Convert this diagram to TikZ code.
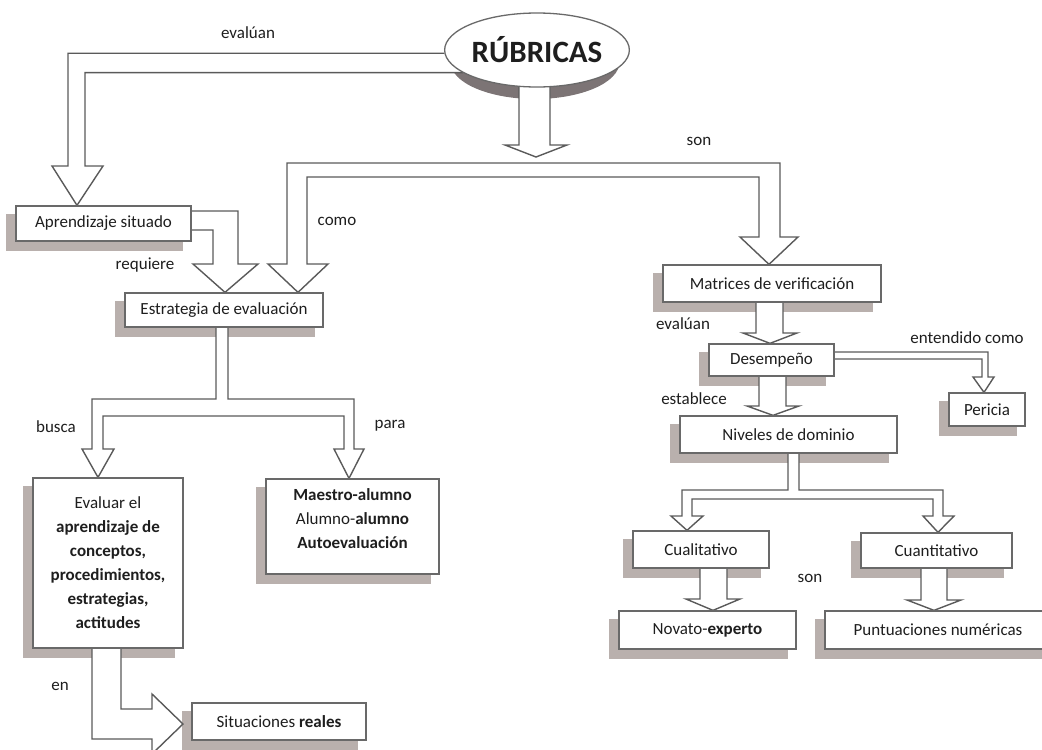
\documentclass[tikz,border=0pt]{standalone}
\usepackage{fontspec}
\setmainfont{Carlito}
\usetikzlibrary{calc, shapes.geometric}
\definecolor{arrowgray}{RGB}{90, 90, 90}
\definecolor{boxgray}{RGB}{105, 105, 105}
\definecolor{shadowtan}{RGB}{185, 176, 173}
\definecolor{ovalshade}{RGB}{124, 116, 117}
\definecolor{inkdark}{RGB}{30, 30, 30}
\pgfdeclarelayer{shadelayer}
\pgfdeclarelayer{arrowlayer}
\pgfsetlayers{shadelayer,arrowlayer,main}
\newcommand\blkdown[7]{%
  \filldraw[blockarrow] (#3,0 |- #1.south) -- (#3,#7) -- (#5,#7)
    -- ({(#5+#6)/2},0 |- #2.north) -- (#6,#7) -- (#4,#7) -- (#4,0 |- #1.south);}

\begin{document}
\begin{tikzpicture}[x=1pt, y=-1pt,
    every node/.style={font=\fontsize{17}{24}\selectfont, text=inkdark},
    concept/.style={draw=boxgray, line width=1.3pt, fill=white, inner sep=0pt, align=center},
    linkword/.style={inner sep=0pt},
    blockarrow/.style={draw=arrowgray, line width=1.4pt, fill=white, line join=miter}]
    \useasboundingbox (0,0) rectangle (1042,750);

    \node[ellipse, draw=boxgray, line width=1.3pt, fill=white, inner sep=0pt,
          minimum width=169pt, minimum height=74pt,
          font=\fontsize{31}{36}\selectfont\bfseries] (rub) at (537,50) {RÚBRICAS};

    \node[concept, minimum width=175pt, minimum height=35pt] (apr) at (103.5,223.5) {Aprendizaje situado};
    \node[concept, minimum width=198pt, minimum height=34pt] (estr) at (224,310) {Estrategia de evaluación};
    \node[concept, minimum width=150pt, minimum height=170pt] (eva) at (108,563)
        {Evaluar el\\ \textbf{aprendizaje de}\\ \textbf{conceptos,}\\ \textbf{procedimientos,}\\ \textbf{estrategias,}\\ \textbf{actitudes}};
    \node[concept, minimum width=173pt, minimum height=95pt] (mae) at (352.5,526.5) {};
    \node[align=center, inner sep=0pt] (maetext) at (352.5,518.5)
        {\textbf{Maestro-alumno}\\ Alumno-\textbf{alumno}\\ \textbf{Autoevaluación}};
    \node[concept, minimum width=174pt, minimum height=37pt] (sit) at (279,721.5) {Situaciones \textbf{reales}};

    \node[concept, minimum width=218pt, minimum height=37pt] (mat) at (772,283.5) {Matrices de verificación};
    \node[concept, minimum width=125pt, minimum height=32pt] (des) at (771.5,360) {Desempeño};
    \node[concept, minimum width=76pt, minimum height=33pt] (per) at (987,409.5) {Pericia};
    \node[concept, minimum width=217pt, minimum height=37pt] (niv) at (788.5,434.5) {Niveles de dominio};
    \node[concept, minimum width=136pt, minimum height=37pt] (cual) at (701,549.5) {Cualitativo};
    \node[concept, minimum width=151pt, minimum height=35pt] (cuan) at (936.5,550.5) {Cuantitativo};
    \node[concept, minimum width=177pt, minimum height=38pt] (nov) at (707.5,630) {Novato-\textbf{experto}};
    \node[concept, minimum width=226pt, minimum height=38pt] (pun) at (938,630) {Puntuaciones numéricas};

    \node[linkword] (wevaluan) at (248,33) {evalúan};
    \node[linkword] (wrequiere) at (145,265) {requiere};
    \node[linkword] (wcomo) at (337,221) {como};
    \node[linkword] (wson) at (699,141) {son};
    \node[linkword] (wbusca) at (56,427) {busca};
    \node[linkword] (wpara) at (390,426) {para};
    \node[linkword] (wen) at (60,686) {en};
    \node[linkword] (wevaluan2) at (683,324) {evalúan};
    \node[linkword] (wentendido) at (967,338) {entendido como};
    \node[linkword] (westablece) at (694,399) {establece};
    \node[linkword] (wson2) at (810,578) {son};

    \coordinate (rubtip) at (536,157);

    \begin{pgfonlayer}{shadelayer}
        \foreach \n in {apr,estr,eva,mae,sit,mat,des,per,niv,cual,cuan,nov,pun}
            \fill[shadowtan] ($(\n.north west)+(-9,9)$) rectangle ($(\n.south east)+(-9,9)$);
        \fill[ovalshade] ($(rub.center)+(-2,12)$) ellipse [x radius=84.5, y radius=37];
    \end{pgfonlayer}

    \begin{pgfonlayer}{arrowlayer}
        \filldraw[blockarrow] (rub.182) -- (rub.182 -| 68,0) -- (68,166) -- (52,166)
            -- (77,0 |- apr.north) -- (103,166) -- (85,166) -- (rub.197 -| 85,0) -- (rub.197);
        \filldraw[blockarrow] (rub.center -| 519,0) -- (519,145) -- (505,145) -- (rubtip)
            -- (567,145) -- (550,145) -- (rub.center -| 550,0);
        \filldraw[blockarrow] (298,0 |- estr.north) -- (328,264) -- (307,264) -- (307,177)
            -- (759,177) -- (759,237) -- (740,237) -- (769,0 |- mat.north) -- (798,237)
            -- (780,237) -- (780,163) -- (287,163) -- (287,264) -- (268,264) -- cycle;
        \filldraw[blockarrow] (apr.east |- 0,211) -- (238,211) -- (238,264) -- (258,264)
            -- (225,0 |- estr.north) -- (193,264) -- (213,264) -- (213,230) -- (apr.east |- 0,230);
        \filldraw[blockarrow] (216,0 |- estr.south) -- (216,399) -- (92,399) -- (92,449)
            -- (82,449) -- (98,0 |- eva.north) -- (114,449) -- (103,449) -- (103,416)
            -- (344,416) -- (344,449) -- (334,449) -- (349,0 |- mae.north) -- (364,449)
            -- (354,449) -- (354,399) -- (228,399) -- (228,0 |- estr.south);
        \filldraw[blockarrow] (92,0 |- eva.south) -- (92,739) -- (152,739) -- (152,754)
            -- (183,724) -- (152,694) -- (152,709) -- (121,709) -- (121,0 |- eva.south);
        \blkdown{mat}{des}{756}{783}{743}{797}{333}
        \filldraw[blockarrow] (des.east |- 0,352) -- (988,352) -- (988,377) -- (994,377)
            -- (984,0 |- per.north) -- (973,377) -- (982,377) -- (982,359) -- (des.east |- 0,359);
        \blkdown{des}{niv}{759}{786}{747}{799}{406}
        \filldraw[blockarrow] (788,0 |- niv.south) -- (788,490) -- (682,490) -- (682,516)
            -- (671,516) -- (687,0 |- cual.north) -- (703,516) -- (692,516) -- (692,499)
            -- (933,499) -- (933,516) -- (923,516) -- (938,0 |- cuan.north) -- (954,516)
            -- (943,516) -- (943,490) -- (799,490) -- (799,0 |- niv.south);
        \blkdown{cual}{nov}{700}{727}{686}{740}{599}
        \blkdown{cuan}{pun}{921}{947}{907}{961}{600}
    \end{pgfonlayer}
\end{tikzpicture}
\end{document}
